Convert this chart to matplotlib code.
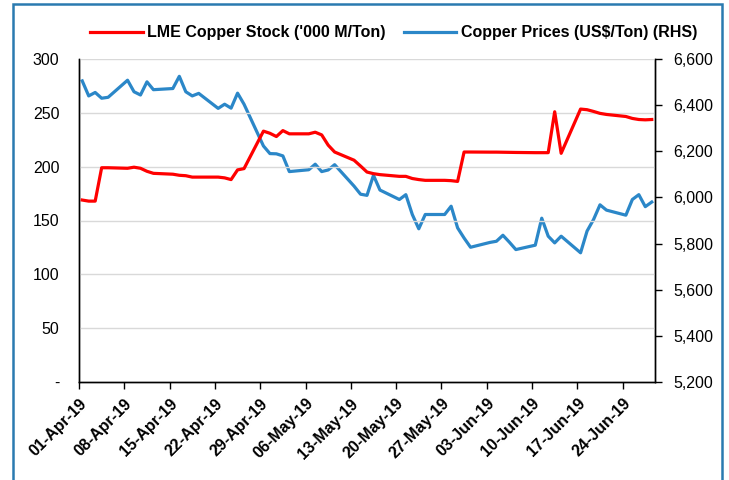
import numpy as np
import pandas as pd
import matplotlib
matplotlib.use('Agg')
import matplotlib.pyplot as plt
import matplotlib.ticker as mticker
import matplotlib.transforms as mtransforms
from matplotlib.patches import Rectangle

plt.rcParams['font.family'] = ['Liberation Sans', 'DejaVu Sans']

# business days Apr-Jun 2019
dates = pd.bdate_range('2019-04-01', '2019-06-28')

# LME copper stock ('000 tonnes), left axis
lme_stock = [169, 168, 168, 199, 199,
             198.5, 199.5, 198.5, 195.7, 193.8,
             193, 192, 191.6, 190.3, 190.3,
             190.3, 189.6, 188, 197, 198.2,
             233, 231, 228, 233.5, 230.5,
             230.5, 232, 229.5, 220, 213.6,
             206, 200.6, 195, 193.5, 192.6,
             191, 191, 189, 188, 187.3,
             187.3, 187, 186.3, 213.6, 213.6,
             213.5, 213.5, 213.4, 213.3, 213.2,
             213, 213, 213, 251, 212.4,
             253.5, 252.9, 251.3, 249.5, 248.5,
             246.6, 244.8, 243.8, 243.5, 243.8]

# copper price (US$/ton), right axis
cu_price = [6505, 6440, 6455, 6430, 6434,
            6508, 6458, 6444, 6501, 6467,
            6472, 6525, 6458, 6440, 6451,
            6386, 6404, 6387, 6452, 6404,
            6223, 6190, 6189, 6180, 6112,
            6120, 6144, 6112, 6119, 6142,
            6049, 6014, 6009, 6096, 6032,
            5991, 6012, 5926, 5864, 5926,
            5926, 5962, 5868, 5824, 5784,
            5805, 5810, 5836, 5806, 5774,
            5793, 5910, 5832, 5803, 5832,
            5760, 5854, 5904, 5968, 5945,
            5923, 5991, 6012, 5960, 5980]

stock_label = "LME Copper Stock ('000 M/Ton)"
price_label = "Copper Prices (US$/Ton) (RHS)"

red = '#ff0000'
blue = '#2b87c8'

fig = plt.figure(figsize=(7.29, 4.80), dpi=100)
ax = fig.add_axes([79/729, 1-382/480, (655-79)/729, (382-59)/480])
ax2 = ax.twinx()

x = dates + pd.Timedelta(hours=12)  # points sit mid-day like excel
l1, = ax.plot(x, lme_stock, color=red, lw=2.3, zorder=3)
l2, = ax2.plot(x, cu_price, color=blue, lw=2.3, zorder=3)
ax.set_zorder(ax2.get_zorder()+1)
ax.patch.set_visible(False)

ax.set_ylim(0, 300)
ax.set_yticks(np.arange(0, 301, 50))
ax.yaxis.set_major_formatter(mticker.FuncFormatter(lambda v, p: '-' if v == 0 else f'{v:.0f}'))
ax2.set_ylim(5200, 6600)
ax2.set_yticks(np.arange(5200, 6601, 200))
ax2.yaxis.set_major_formatter(mticker.FuncFormatter(lambda v, p: f'{v:,.0f}'))

ax.set_xlim(pd.Timestamp('2019-04-01'), pd.Timestamp('2019-06-29'))
ticks = pd.date_range('2019-04-01', '2019-06-24', freq='7D')
ax.set_xticks(ticks)
ax.set_xticklabels([t.strftime('%d-%b-%y') for t in ticks], rotation=45,
                   ha='right', rotation_mode='anchor', fontsize=11.5, fontweight='bold')
# nudge rotated labels a few px right, as in excel
shift = mtransforms.ScaledTranslation(4/100, 0, fig.dpi_scale_trans)
for lab in ax.get_xticklabels():
    lab.set_transform(lab.get_transform() + shift)

ax.grid(axis='y', color='#d9d9d9', lw=1)
ax.set_axisbelow(True)
ax.tick_params(axis='y', length=0, pad=14, labelsize=11.5)
ax.tick_params(axis='x', length=5, width=1, direction='out', pad=5)
ax2.tick_params(axis='y', length=5, width=1, direction='out', pad=8, labelsize=11.5)

for a in (ax, ax2):
    a.spines['top'].set_visible(False)
    for s in ('left', 'right', 'bottom'):
        a.spines[s].set_color('black')
        a.spines[s].set_linewidth(1)

fig.legend([l1, l2], [stock_label, price_label], loc='center',
           bbox_to_anchor=(0.54, 1-33/480), ncol=2, frameon=False,
           prop={'size': 11.5, 'weight': 'bold'}, handlelength=3.3,
           handletextpad=0.3, columnspacing=1.1)

# blue frame round the exhibit
fig.patches.append(Rectangle((13/729, -0.1), (722-13)/729, 1.1-4/480,
                             transform=fig.transFigure, fill=False,
                             edgecolor='#2a7ab0', lw=1.8))

fig.savefig('out.png', dpi=100)
